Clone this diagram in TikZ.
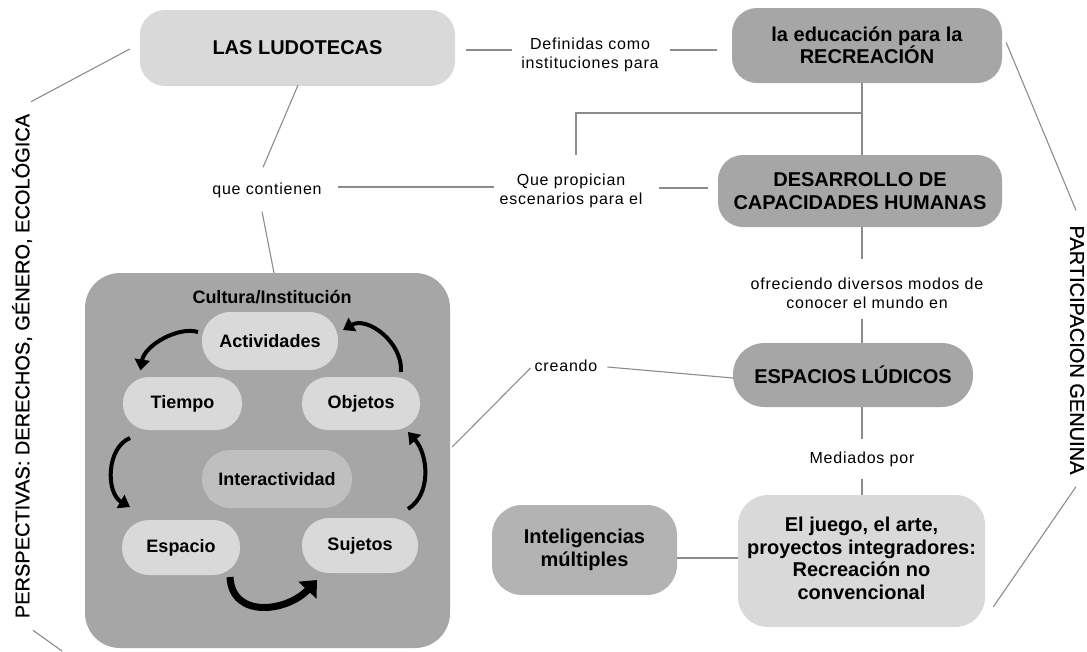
\documentclass[tikz,border=0pt]{standalone}
\usepackage{fontspec}
\setmainfont{Liberation Sans}
\newfontfamily\lblfont[LetterSpace=5]{Liberation Sans}
\newfontfamily\sidefont[FakeBold=0.8]{Liberation Sans}
\usetikzlibrary{arrows.meta}
\definecolor{lightbox}{HTML}{D9D9D9}
\definecolor{midbox}{HTML}{A6A6A6}
\definecolor{intelbox}{HTML}{B3B3B3}
\definecolor{interbox}{HTML}{BFBFBF}
\definecolor{linec}{HTML}{8C8C8C}
\begin{document}
\begin{tikzpicture}[x=1pt,y=-1pt,
 box/.style={rectangle, rounded corners=25pt, inner sep=0pt, align=center, font=\fontsize{20}{22.5}\selectfont\bfseries},
 pill/.style={rectangle, fill=lightbox, inner sep=0pt, font=\fontsize{18}{20}\selectfont\bfseries},
 lbl/.style={inner sep=0pt, align=center, font=\lblfont\fontsize{16}{19}\selectfont},
 side/.style={inner sep=0pt, font=\sidefont\fontsize{20}{24}\selectfont},
 conn/.style={draw=linec, line width=1.1pt},
 carrow/.style={line width=4pt, -{Triangle[length=11pt,width=15pt]}},
]
\useasboundingbox (0,0) rectangle (1087,651);
\fill[white] (0,0) rectangle (1087,651);

% main boxes
\node[box, fill=lightbox, minimum width=315pt, minimum height=76pt] (ludo) at (297.5,48) {LAS LUDOTECAS};
\node[box, fill=midbox, minimum width=270pt, minimum height=75pt] (recre) at (867,45.5) {la educación para la\\RECREACIÓN};
\node[box, fill=midbox, minimum width=284pt, minimum height=72pt] (desa) at (860,191) {DESARROLLO DE\\CAPACIDADES HUMANAS};
\node[box, fill=midbox, rounded corners=31.5pt, minimum width=240pt, minimum height=64pt] (esp) at (853,375) {ESPACIOS LÚDICOS};
\node[box, fill=lightbox, rounded corners=30pt, minimum width=247pt, minimum height=132pt] (juego) at (861.5,561) {\raisebox{-6pt}{\begin{tabular}{@{}c@{}}El juego, el arte,\\proyectos integradores:\\Recreación no\\convencional\end{tabular}}};
\node[box, fill=intelbox, rounded corners=30pt, minimum width=185pt, minimum height=90pt] (intel) at (584.5,550) {Inteligencias\\múltiples};

% culture box
\node[fill=midbox, rounded corners=35pt, minimum width=365pt, minimum height=375pt, inner sep=0pt] (cult) at (267.5,460.5) {};
\node[inner sep=0pt, font=\fontsize{18}{20}\selectfont\bfseries] (cultt) at (272,297) {Cultura/Institución};
\node[pill, minimum width=136pt, minimum height=58pt, rounded corners=28.5pt] (act) at (270,341) {Actividades};
\node[pill, minimum width=119pt, minimum height=53pt, rounded corners=26pt] (tiem) at (182.5,403.5) {Tiempo};
\node[pill, minimum width=118pt, minimum height=53pt, rounded corners=26pt] (obj) at (361,403.5) {Objetos};
\node[pill, fill=interbox, minimum width=150pt, minimum height=58pt, rounded corners=28.5pt] (inter) at (277,479) {Interactividad};
\node[pill, minimum width=118pt, minimum height=55pt, rounded corners=27pt] (esp2) at (181,547.5) {Espacio};
\node[pill, minimum width=116pt, minimum height=55pt, rounded corners=27pt] (suj) at (360,545.5) {Sujetos};

% labels
\node[lbl] (def) at (590,55) {Definidas como\\instituciones para};
\node[lbl] (qc) at (267,190) {que contienen};
\node[lbl] (qp) at (571,191) {Que propician\\escenarios para el};
\node[lbl] (ofre) at (867,293) {ofreciendo diversos modos de\\conocer el mundo en};
\node[lbl] (crea) at (566,366) {creando};
\node[lbl] (med) at (862,459) {Mediados por};

% side texts
\node[side, rotate=90] (persp) at (22,366) {PERSPECTIVAS: DERECHOS, GÉNERO, ECOLÓGICA};
\node[side, rotate=-90] (part) at (1077,350) {PARTICIPACION GENUINA};

% connectors
\coordinate (jn) at (862,113);
\coordinate (bl) at (62,651);
\draw[conn] ([shift={(11,2)}]ludo.east) -- ([shift={(-9,-5)}]def.west);
\draw[conn] ([shift={(11,-5)}]def.east) -- ([shift={(-15,4.5)}]recre.west);
\draw[conn] (recre.south -| jn) -- (desa.north -| jn);
\draw[conn] (jn) -| ([shift={(5,-19)}]qp.north);
\draw[conn] ([shift={(0.5,-1)}]ludo.south) -- ([shift={(-4,-15)}]qc.north);
\draw[conn] ([shift={(-5,14)}]qc.south) -- ([shift={(6.5,0)}]cult.north);
\draw[conn] ([shift={(16,-3)}]qc.east) -- ([shift={(-5,-4)}]qp.west);
\draw[conn] ([shift={(16,-3)}]qp.east) -- ([shift={(-10,-3)}]desa.west);
\draw[conn, shorten >=18pt] (desa.south -| jn) -- (ofre.north -| jn);
\draw[conn, shorten <=10pt] (ofre.south -| jn) -- (esp.north -| jn);
\draw[conn] ([shift={(2,-13.5)}]cult.east) -- ([shift={(-4,2)}]crea.west);
\draw[conn] ([shift={(10,1)}]crea.east) -- ([shift={(0,3)}]esp.west);
\draw[conn, shorten >=12pt] (esp.south -| jn) -- (med.north -| jn);
\draw[conn, shorten <=12pt] (med.south -| jn) -- (juego.north -| jn);
\draw[conn] ([shift={(0,8)}]intel.east) -- ([shift={(0,-3)}]juego.west);
\draw[conn] ([shift={(-10,1)}]ludo.west) -- ([shift={(9,-12)}]persp.east);
\draw[conn] ([shift={(11,12)}]persp.west) -- (bl);
\draw[conn] ([shift={(4,-3)}]recre.east) -- ([shift={(-1,-15)}]part.west);
\draw[conn] ([shift={(-1,12)}]part.east) -- ([shift={(8,46)}]juego.east);

% cycle arrows
\draw[carrow] ([shift={(-72,-9)}]act.center) .. controls +(-20,-6) and +(4,-25) .. ([shift={(-42,-33)}]tiem.center);
\draw[carrow] ([shift={(40,-31.5)}]obj.center) .. controls +(2,-30) and +(24,-14) .. ([shift={(73,-11)}]act.center);
\draw[carrow] ([shift={(-52.5,34.5)}]tiem.center) .. controls +(-24,10) and +(-24,-14) .. ([shift={(-51,-40.5)}]esp2.center);
\draw[carrow] ([shift={(48,-36.5)}]suj.center) .. controls +(24,-15) and +(20,22) .. ([shift={(47,28.5)}]obj.center);
\draw[carrow, line width=7pt, -{Triangle[length=14pt,width=24pt]}] ([shift={(49,29.5)}]esp2.center) .. controls +(2,42) and +(-30,32) .. ([shift={(-43,34.5)}]suj.center);
\end{tikzpicture}
\end{document}
